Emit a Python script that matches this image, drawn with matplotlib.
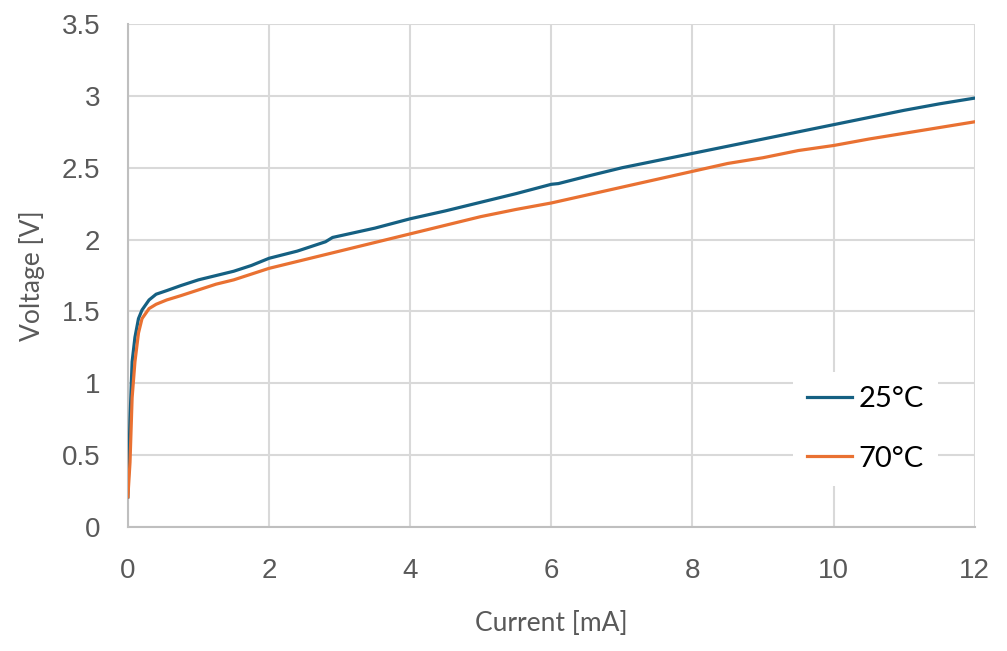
import matplotlib
matplotlib.use("Agg")
import matplotlib.pyplot as plt

# 25 °C curve
cur_25 = [0, 0.03, 0.06, 0.1, 0.15, 0.2, 0.3, 0.4, 0.55, 0.75, 1.0, 1.25, 1.5, 1.75,
          2.0, 2.4, 2.8, 2.9, 3.5, 4.0, 4.5, 5.0, 5.5, 6.0, 6.1, 6.5, 7.0, 7.5, 8.0,
          8.5, 9.0, 9.5, 10.0, 10.5, 11.0, 11.5, 12.0]
volt_25 = [0.21, 0.75, 1.15, 1.32, 1.45, 1.51, 1.58, 1.62, 1.645, 1.68, 1.72, 1.75, 1.78, 1.82,
           1.87, 1.92, 1.985, 2.015, 2.08, 2.145, 2.20, 2.26, 2.32, 2.385, 2.39, 2.44, 2.50, 2.55, 2.60,
           2.65, 2.70, 2.75, 2.80, 2.85, 2.90, 2.945, 2.985]

# 70 °C curve
cur_70 = [0, 0.03, 0.06, 0.1, 0.15, 0.2, 0.3, 0.4, 0.55, 0.75, 1.0, 1.25, 1.5, 2.0, 2.5,
          3.0, 3.5, 4.0, 4.5, 5.0, 5.5, 6.0, 6.5, 7.0, 7.5, 8.0, 8.5, 9.0, 9.5, 10.0,
          10.5, 11.0, 11.5, 12.0]
volt_70 = [0.21, 0.45, 0.9, 1.15, 1.35, 1.45, 1.52, 1.55, 1.58, 1.61, 1.65, 1.69, 1.72, 1.80, 1.86,
           1.92, 1.98, 2.04, 2.10, 2.16, 2.21, 2.255, 2.31, 2.365, 2.42, 2.475, 2.53, 2.57, 2.62, 2.655,
           2.70, 2.74, 2.78, 2.82]

x_ticks = [0, 2, 4, 6, 8, 10, 12]
y_ticks = [0, 0.5, 1, 1.5, 2, 2.5, 3, 3.5]
y_tick_labels = ["0", "0.5", "1", "1.5", "2", "2.5", "3", "3.5"]

grey = "#595959"
fig = plt.figure(figsize=(10.07, 6.51), dpi=100)
ax = fig.add_axes([0.127, 0.1905, 0.841, 0.7725])

ax.plot(cur_25, volt_25, color="#156082", lw=2.3, label="25°C", zorder=3)
ax.plot(cur_70, volt_70, color="#E97132", lw=2.3, label="70°C", zorder=3)

ax.set_xlim(0, 12)
ax.set_ylim(0, 3.5)
ax.set_xticks(x_ticks)
ax.set_yticks(y_ticks)
ax.set_yticklabels(y_tick_labels)
ax.grid(True, color="#d9d9d9", lw=1.5)
ax.set_axisbelow(True)
for s in ["top", "right"]:
    ax.spines[s].set_visible(False)
for s in ["left", "bottom"]:
    ax.spines[s].set_color("#bfbfbf")
    ax.spines[s].set_linewidth(1.5)

ax.tick_params(length=0, labelsize=20, labelcolor=grey)
ax.tick_params(axis="x", pad=22)
ax.tick_params(axis="y", pad=20)
for t in ax.get_xticklabels() + ax.get_yticklabels():
    t.set_fontfamily("Liberation Sans")

ax.set_xlabel("Current [mA]", fontsize=19, color=grey, family="Lato", labelpad=20)
ax.set_ylabel("Voltage [V]", fontsize=19, color=grey, family="Lato", labelpad=12)

leg = ax.legend(loc="upper left", bbox_to_anchor=(778 / 1007, 1 - 357 / 651),
                bbox_transform=fig.transFigure, frameon=True, framealpha=1,
                facecolor="white", edgecolor="none", fancybox=False,
                prop={"family": "Lato", "size": 21}, handlelength=1.55,
                handletextpad=0.2, labelspacing=1.15, borderpad=0.5)
leg.set_zorder(5)

fig.savefig("out.png", dpi=100)
